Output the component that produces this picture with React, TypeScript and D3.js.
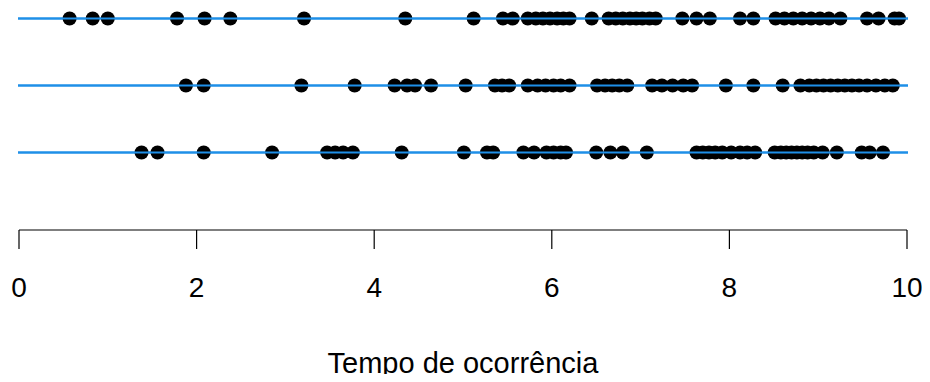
import React, { useRef, useEffect } from 'react';
import * as d3 from 'd3';

// times of occurrence for each of the three processes (top to bottom)
const serie1 = [0.57, 0.83, 1.0, 1.78, 2.09, 2.38, 3.21, 4.35, 5.12, 5.45, 5.56,
  5.73, 5.82, 5.9, 5.98, 6.06, 6.13, 6.2, 6.45, 6.64, 6.72, 6.8, 6.88, 6.95, 7.02,
  7.1, 7.17, 7.47, 7.63, 7.78, 8.12, 8.27, 8.52, 8.62, 8.72, 8.82, 8.92, 9.02,
  9.12, 9.25, 9.55, 9.68, 9.86, 9.91];
const serie2 = [1.88, 2.08, 3.18, 3.78, 4.23, 4.37, 4.46, 4.64, 5.03, 5.36, 5.44,
  5.52, 5.73, 5.84, 5.93, 6.02, 6.1, 6.2, 6.51, 6.6, 6.68, 6.76, 6.85, 7.13, 7.24,
  7.36, 7.48, 7.58, 7.96, 8.27, 8.6, 8.8, 8.9, 8.98, 9.06, 9.14, 9.22, 9.3, 9.38,
  9.46, 9.55, 9.65, 9.75, 9.84];
const serie3 = [1.38, 1.56, 2.08, 2.85, 3.47, 3.56, 3.65, 3.76, 4.31, 5.01, 5.27,
  5.34, 5.68, 5.8, 5.94, 6.02, 6.1, 6.16, 6.5, 6.66, 6.8, 7.07, 7.63, 7.7, 7.77,
  7.84, 7.92, 8.02, 8.12, 8.2, 8.29, 8.51, 8.58, 8.64, 8.7, 8.76, 8.82, 8.88,
  8.95, 9.05, 9.21, 9.49, 9.58, 9.73];
const series = [serie1, serie2, serie3];
const ticks = [0, 2, 4, 6, 8, 10];
const xTitle = 'Tempo de ocorrência';

const W = 930;
const H = 382;

const Chart = () => {
  const ref = useRef(null);

  useEffect(() => {
    const svg = d3.select(ref.current);
    svg.selectAll('*').remove();

    const x = d3.scaleLinear().domain([0, 10]).range([19, 907]);
    const y = d3.scalePoint().domain(['0', '1', '2']).range([18.5, 152.5]);
    const font = 'Liberation Sans, Arial, Helvetica, sans-serif';

    // horizontal lines
    series.forEach((s, i) => {
      const yy = y(String(i));
      svg.append('line')
        .attr('x1', 18).attr('x2', 908)
        .attr('y1', yy).attr('y2', yy)
        .attr('stroke', '#1E8FE8')
        .attr('stroke-width', 2);
    });

    // points
    series.forEach((s, i) => {
      const yy = y(String(i));
      svg.append('g')
        .selectAll('circle')
        .data(s)
        .enter()
        .append('circle')
        .attr('cx', (d) => x(d))
        .attr('cy', yy)
        .attr('r', 7)
        .attr('fill', 'black');
    });

    // lines drawn again on top of points so the blue shows through
    series.forEach((s, i) => {
      const yy = y(String(i));
      svg.append('line')
        .attr('x1', 18).attr('x2', 908)
        .attr('y1', yy).attr('y2', yy)
        .attr('stroke', '#1E8FE8')
        .attr('stroke-width', 2);
    });

    // x axis
    const axis = svg.append('g').attr('transform', 'translate(0,230)');
    axis.append('line')
      .attr('x1', x(0)).attr('x2', x(10))
      .attr('y1', 0).attr('y2', 0)
      .attr('stroke', 'black').attr('stroke-width', 1.2);
    axis.selectAll('.tick')
      .data(ticks)
      .enter()
      .append('line')
      .attr('x1', (d) => x(d)).attr('x2', (d) => x(d))
      .attr('y1', 0).attr('y2', 19)
      .attr('stroke', 'black').attr('stroke-width', 1.2);
    axis.selectAll('.lbl')
      .data(ticks)
      .enter()
      .append('text')
      .attr('x', (d) => x(d))
      .attr('y', 67)
      .attr('text-anchor', 'middle')
      .attr('font-family', font)
      .attr('font-size', 28)
      .text((d) => d);

    svg.append('text')
      .attr('x', x(5))
      .attr('y', 373)
      .attr('text-anchor', 'middle')
      .attr('font-family', font)
      .attr('font-size', 29)
      .text(xTitle);
  }, []);

  return <svg ref={ref} width={W} height={H} style={{ display: 'block' }} />;
};

const App = () => (
  <div style={{ margin: -8, width: W, height: H, background: 'white' }}>
    <Chart />
  </div>
);

export default App;
